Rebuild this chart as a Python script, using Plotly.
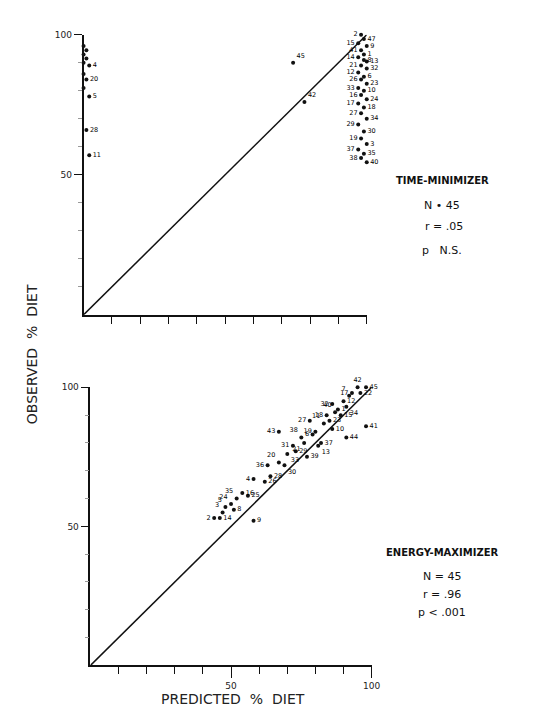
import plotly.graph_objects as go

# ---------------- data ----------------
diag = [0, 100]

# Time-minimizer panel
tm_pred = [0, 1, 0, 1, 0, 2, 0, 1, 0, 2, 1, 2,
           74, 78,
           98, 99, 97, 100, 98, 99, 97, 100, 98, 100, 97, 99, 98, 100, 97, 99,
           98, 100, 97, 99, 98, 100, 97, 99, 98, 100, 97, 99, 98, 100, 99]
tm_obs = [96, 94.5, 93, 91.5, 90, 89, 86, 84, 81, 78, 66, 57,
          90, 76,
          100, 98.5, 97, 96, 94.5, 93, 92, 90.5, 89, 88, 86.5, 85, 84, 82.5, 81, 80,
          78.5, 77, 75.5, 74, 72, 70, 68, 65.5, 63, 61, 59, 57.5, 56, 54.5, 91]
tm_lab = ["", "", "", "", "", "4", "", "20", "", "5", "28", "11",
          "45", "42",
          "2", "47", "15", "9", "41", "1", "14", "13", "21", "32", "12", "6", "26", "23",
          "33", "10", "16", "24", "17", "18", "27", "34", "29", "30", "19", "3", "37",
          "35", "38", "40", "8"]
tm_pos = ["middle right"] * 12 + ["top right", "top right"] + \
         ["middle left" if i % 2 == 0 else "middle right" for i in range(30)] + ["middle right"]

# Energy-maximizer panel
em_pred = [88, 44, 47, 58, 48, 79, 92, 51, 58, 86, 83, 90, 81, 46, 89, 54, 93, 84, 80, 67,
           76, 96, 85, 50, 56, 62, 78, 64, 73, 69, 72, 86, 70, 91, 52, 63, 82, 75, 77, 87,
           98, 95, 67, 91, 98]
em_obs = [92, 53, 55, 67, 57, 83, 97, 56, 52, 85, 87, 95, 79, 53, 90, 62, 98, 90, 84, 73,
          80, 98, 88, 58, 61, 66, 88, 68, 77, 72, 79, 94, 76, 93, 60, 72, 80, 82, 75, 91,
          86, 100, 84, 82, 100]
em_lab = [str(i) for i in range(1, 46)]
em_pos = ["middle right", "middle left", "top left", "middle left", "top left",
          "middle left", "top left", "middle right", "middle right", "middle right",
          "top left", "middle right", "bottom right", "middle right", "middle right",
          "middle right", "middle left", "middle left", "middle left", "top left",
          "bottom left", "middle right", "middle right", "top left", "middle right",
          "middle right", "middle left", "middle right", "middle right", "bottom right",
          "middle left", "middle left", "bottom right", "bottom right", "top left",
          "middle left", "middle right", "top left", "middle right", "top left",
          "middle right", "top center", "middle left", "middle right", "middle right"]

# ---------------- figure ----------------
fig = go.Figure()
ink = "#111111"
lab_font = dict(family="DejaVu Sans", size=6.5, color="#000")

fig.add_trace(go.Scatter(x=diag, y=diag, mode="lines", line=dict(color=ink, width=1.5),
                         xaxis="x", yaxis="y", showlegend=False, hoverinfo="skip"))
fig.add_trace(go.Scatter(x=tm_pred, y=tm_obs, mode="markers+text", text=tm_lab,
                         textposition=tm_pos, textfont=lab_font,
                         marker=dict(size=4, color=ink), cliponaxis=False,
                         xaxis="x", yaxis="y", showlegend=False))
fig.add_trace(go.Scatter(x=diag, y=diag, mode="lines", line=dict(color=ink, width=1.5),
                         xaxis="x2", yaxis="y2", showlegend=False, hoverinfo="skip"))
fig.add_trace(go.Scatter(x=em_pred, y=em_obs, mode="markers+text", text=em_lab,
                         textposition=em_pos, textfont=lab_font,
                         marker=dict(size=4, color=ink), cliponaxis=False,
                         xaxis="x2", yaxis="y2", showlegend=False))

W, H = 535, 721
def px(v):
    return v / W
def py(v):
    return 1 - v / H

axcommon = dict(range=[0, 100], showgrid=False, zeroline=False, showline=True,
                linecolor=ink, linewidth=1.6, ticks="outside", tickcolor=ink,
                tickwidth=1.3, tickfont=dict(family="DejaVu Sans", size=9, color="#222"),
                fixedrange=True)
minor_t = [10, 20, 30, 40, 60, 70, 80, 90]

fig.update_layout(
    width=W, height=H, margin=dict(l=0, r=0, t=0, b=0),
    paper_bgcolor="white", plot_bgcolor="white",
    xaxis=dict(axcommon, domain=[px(85), px(373)], anchor="y",
               tickvals=[10, 20, 30, 40, 50, 60, 70, 80, 90, 100], ticklen=7,
               showticklabels=False),
    yaxis=dict(axcommon, domain=[py(312), py(30)], anchor="x",
               tickvals=[50, 100], ticklen=8,
               minor=dict(tickvals=minor_t, ticklen=4, tickcolor="#999", ticks="outside")),
    xaxis2=dict(axcommon, domain=[px(92), px(378)], anchor="y2",
                tickvals=[50, 100], ticklen=11,
                minor=dict(tickvals=minor_t, ticklen=7, ticks="outside", tickcolor=ink)),
    yaxis2=dict(axcommon, domain=[py(665), py(385)], anchor="x2",
                tickvals=[50, 100], ticklen=8,
                minor=dict(tickvals=minor_t, ticklen=4, tickcolor="#999", ticks="outside")),
    font=dict(family="DejaVu Sans", color="#222"),
)

head_font = dict(family="DejaVu Sans", size=10, color="#111", weight="bold")
ann_font = dict(family="DejaVu Sans", size=11, color="#111")
stats = [
    ("TIME-MINIMIZER", 450, 177, head_font),
    ("N \u2022 45", 450, 202, ann_font),
    ("r = .05", 452, 223, ann_font),
    ("p   N.S.", 450, 247, ann_font),
    ("ENERGY-MAXIMIZER", 450, 551, head_font),
    ("N = 45", 450, 575, ann_font),
    ("r = .96", 450, 594, ann_font),
    ("p < .001", 450, 612, ann_font),
]
for txt, x, y, f in stats:
    fig.add_annotation(text=txt, x=px(x), y=py(y), xref="paper", yref="paper",
                       showarrow=False, font=f, xanchor="center", yanchor="middle")

fig.add_annotation(text="OBSERVED  %  DIET", x=px(22), y=py(352), xref="paper", yref="paper",
                   showarrow=False, textangle=-90,
                   font=dict(family="DejaVu Sans", size=14, color="#222"))
fig.add_annotation(text="PREDICTED  %  DIET", x=px(237), y=py(709), xref="paper", yref="paper",
                   showarrow=False, font=dict(family="DejaVu Sans", size=14, color="#222"))

fig.write_html("out.html")
